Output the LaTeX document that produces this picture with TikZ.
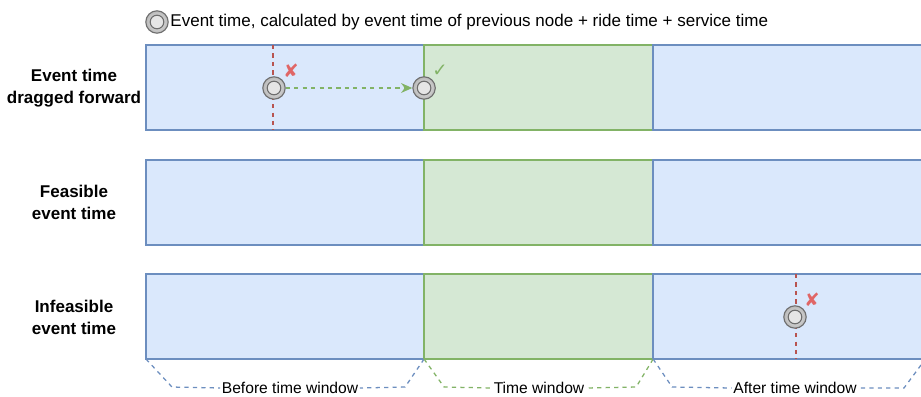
\documentclass[tikz,border=0pt]{standalone}
\usepackage{fontspec}
\setmainfont{Liberation Sans}
\newfontfamily\symfont{DejaVu Sans}
\usepackage{xcolor}
\usepackage{tikz}
\usetikzlibrary{arrows.meta, positioning}
\definecolor{bluefill}{RGB}{218,232,252}
\definecolor{blueline}{RGB}{108,142,191}
\definecolor{greenfill}{RGB}{213,232,212}
\definecolor{greenline}{RGB}{130,179,102}
\definecolor{redline}{RGB}{184,84,80}
\definecolor{redmark}{RGB}{224,102,102}
\definecolor{markgray}{RGB}{110,110,110}
\tikzset{
  blueseg/.style={rectangle, draw=blueline, fill=bluefill, line width=1pt,
    minimum height=2.125cm, outer sep=0pt, inner sep=0pt, anchor=north west},
  greenseg/.style={rectangle, draw=greenline, fill=greenfill, line width=1pt,
    minimum height=2.125cm, minimum width=5.725cm, outer sep=0pt, inner sep=0pt},
  rowlabel/.style={align=center, font=\fontsize{12.1}{15.6}\selectfont\bfseries},
  legendtext/.style={font=\fontsize{12.1}{14}\selectfont, inner sep=1pt},
  spanlabel/.style={font=\fontsize{11.1}{13}\selectfont, inner sep=1pt},
  marker/.style={circle, draw=markgray, line width=0.8pt, minimum size=0.56cm,
    inner sep=0pt, inner color=gray!15, outer color=gray!55,
    path picture={\draw[markgray, line width=0.8pt, fill=gray!20]
      (path picture bounding box.center) circle (0.17cm);}},
  guide/.style={redline, dashed, line width=0.9pt},
  movearrow/.style={-{Stealth[length=8pt, width=7pt]}, greenline, dashed, line width=0.9pt},
  nogood/.style={text=redmark, font=\symfont\fontsize{13}{13}\selectfont\bfseries, inner sep=0pt},
  good/.style={text=greenline, font=\symfont\fontsize{13}{13}\selectfont, inner sep=0pt},
  bluespan/.style={blueline, dash pattern=on 3pt off 3pt, line width=0.9pt},
  greenspan/.style={greenline, dash pattern=on 3pt off 3pt, line width=0.9pt}
}

\begin{document}
\begin{tikzpicture}[x=0.025cm, y=-0.025cm]
  \useasboundingbox (0,0) rectangle (921,396);

  % Legend
  \node[marker] (leg) at (157,22) {};
  \node[legendtext, right=0pt of leg] (legtext) {Event time, calculated by event time of previous node + ride time + service time};

  % Rows
  \node[blueseg, minimum width=6.95cm] (r1a) at (146,45) {};
  \node[greenseg, right=0pt of r1a] (r1b) {};
  \node[blueseg, minimum width=6.725cm, right=0pt of r1b, anchor=west] (r1c) {};

  \node[blueseg, minimum width=6.95cm] (r2a) at (146,160) {};
  \node[greenseg, right=0pt of r2a] (r2b) {};
  \node[blueseg, minimum width=6.725cm, right=0pt of r2b, anchor=west] (r2c) {};

  \node[blueseg, minimum width=6.95cm] (r3a) at (146,274) {};
  \node[greenseg, right=0pt of r3a] (r3b) {};
  \node[blueseg, minimum width=6.725cm, right=0pt of r3b, anchor=west] (r3c) {};

  % Row labels
  \node[rowlabel] (lab1) at (74,88) {Event time\\dragged forward};
  \node[rowlabel] (lab2) at (74,202) {Feasible\\event time};
  \node[rowlabel] (lab3) at (74,317) {Infeasible\\event time};

  % Event dragged forward
  \coordinate (t1) at (273,88);
  \draw[guide] (t1 |- r1a.north) -- (t1 |- r1a.south);
  \node[marker] (ev1) at (274,88) {};
  \node[marker] (ev2) at (r1b.west |- ev1) {};
  \draw[movearrow] (ev1) -- (ev2);
  \node[nogood] (x1) at (291,71) {✘};
  \node[good] (ok1) at (440,71) {✓};

  % Infeasible event
  \coordinate (t3) at (796,317);
  \draw[guide] (t3 |- r3c.north) -- (t3 |- r3c.south);
  \node[marker] (ev3) at (795,317) {};
  \node[nogood] (x3) at (812,300) {✘};

  % Spans
  \node[spanlabel] (before) at (290,388) {Before time window};
  \node[spanlabel] (inside) at (539,388) {Time window};
  \node[spanlabel] (after) at (795,388) {After time window};
  \draw[bluespan] (r3a.south west) -- ++(26,28) -- (before.west);
  \draw[bluespan] (r3a.south east) -- ++(-19,28) -- (before.east);
  \draw[greenspan] (r3b.south west) -- ++(20,28) -- (inside.west);
  \draw[greenspan] (r3b.south east) -- ++(-17,28) -- (inside.east);
  \draw[bluespan] (r3c.south west) -- ++(19,28) -- (after.west);
  \draw[bluespan] (921,365) -- (904,388) -- (after.east);
\end{tikzpicture}
\end{document}
